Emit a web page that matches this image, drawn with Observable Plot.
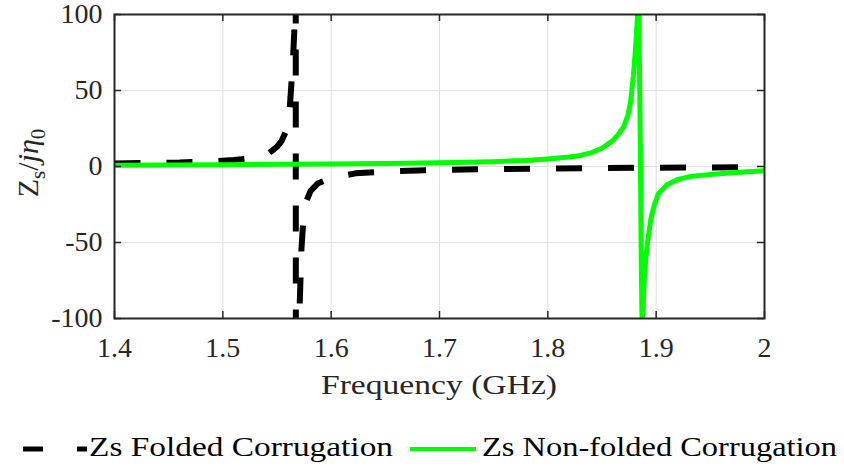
<!DOCTYPE html>
<html><head><meta charset="utf-8">
<script src="https://cdn.jsdelivr.net/npm/d3@7"></script>
<script src="https://cdn.jsdelivr.net/npm/@observablehq/plot@0.6"></script>
<style>
html,body{margin:0;padding:0;background:#fff;overflow:hidden}
</style></head><body><div id="chart"></div>
<script>
// ---- data ----
const foldedFreq = [1.400,1.430,1.460,1.490,1.510,1.525,1.535,1.542,1.5456,1.550,1.554,1.558,1.560,1.5615,1.5625,1.5638,1.5650,1.5660,1.5667,1.5672,1.5675,1.5695,1.5710,1.5725,1.5745,1.5770,1.5810,1.5880,1.6000,1.6225,1.650,1.700,1.750,1.800,1.850,1.900,1.950,2.000];
const foldedZ    = [2.0,2.3,2.7,3.4,4.3,5.4,6.8,8.5,10.5,13,16.5,22.6,28,36,46,60,74,90,106,400,-400,-140,-90,-55,-33,-23,-16,-11,-7.5,-4.5,-3.3,-2.3,-1.7,-1.3,-1.0,-0.8,-0.6,-0.4];
const nonFoldedFreq = [1.400,1.450,1.500,1.550,1.600,1.650,1.700,1.750,1.780,1.800,1.820,1.830,1.840,1.850,1.860,1.866,1.870,1.874,1.8765,1.879,1.881,1.8825,1.8833,1.8840,1.8850,1.8856,1.8862,1.8868,1.8872,1.8878,1.8890,1.8905,1.8920,1.8950,1.8980,1.9020,1.9100,1.9200,1.9320,1.9500,1.9700,1.9850,2.0000];
const nonFoldedZ    = [0.8,1.0,1.2,1.4,1.7,2.0,2.5,3.2,4.0,5.0,6.3,7.3,9.0,12,17,22,26,34,43,60,78,96,106,100,40,-10,-60,-95,-104,-96,-74,-60,-50,-35,-26,-18,-12,-8.5,-6.5,-5.2,-4.1,-3.4,-2.8];
const xTicks = [1.4,1.5,1.6,1.7,1.8,1.9,2.0];
const xTickLabels = ["1.4","1.5","1.6","1.7","1.8","1.9","2"];
const yTicks = [-100,-50,0,50,100];
const yTickLabels = ["-100","-50","0","50","100"];
const seriesNames = ["Zs Folded Corrugation","Zs Non-folded Corrugation"];
const seriesColors = ["#000000","#00ff00"];
const xLabel = "Frequency (GHz)";

// ---- layout ----
const W = 844, H = 410;
const mL = 114, mR = 80, mT = 14, mB = 92;
const plotW = W - mL - mR, plotH = H - mT - mB;
const FONT = "'Liberation Serif', serif";

const folded = foldedFreq.map((f, i) => ({f, z: foldedZ[i]}));
const nonFolded = nonFoldedFreq.map((f, i) => ({f, z: nonFoldedZ[i]}));
const axisColor = "#262626";
const tickLen = 7;

const chart = Plot.plot({
  width: W, height: H,
  marginLeft: mL, marginRight: mR, marginTop: mT, marginBottom: mB,
  x: {domain: [1.4, 2.0]},
  y: {domain: [-100, 100]},
  style: {fontFamily: FONT, fontSize: "28px"},
  marks: [
    Plot.gridX(xTicks, {stroke: "#dfdfdf", strokeOpacity: 1, strokeWidth: 1}),
    Plot.gridY(yTicks, {stroke: "#dfdfdf", strokeOpacity: 1, strokeWidth: 1}),
    Plot.line(folded, {x: "f", y: "z", stroke: seriesColors[0], strokeWidth: 6, strokeDasharray: "26,26", strokeLinecap: "butt", strokeLinejoin: "miter", clip: true}),
    Plot.line(nonFolded, {x: "f", y: "z", stroke: seriesColors[1], strokeWidth: 5, clip: true}),
    Plot.tickX(xTicks, {x: d => d, stroke: axisColor, strokeWidth: 1.5, insetTop: plotH - tickLen}),
    Plot.tickX(xTicks, {x: d => d, stroke: axisColor, strokeWidth: 1.5, insetBottom: plotH - tickLen}),
    Plot.tickY(yTicks, {y: d => d, stroke: axisColor, strokeWidth: 1.5, insetRight: plotW - tickLen}),
    Plot.tickY(yTicks, {y: d => d, stroke: axisColor, strokeWidth: 1.5, insetLeft: plotW - tickLen}),
    Plot.frame({stroke: axisColor, strokeWidth: 2}),
    Plot.axisX(xTicks, {tickSize: 0, tickPadding: 19, fontSize: 28, fill: axisColor, label: null,
      tickFormat: d => xTickLabels[xTicks.indexOf(d)]}),
    Plot.axisY(yTicks, {tickSize: 0, tickPadding: 12, fontSize: 28, fill: axisColor, label: null,
      tickFormat: d => yTickLabels[yTicks.indexOf(d)]})
  ]
});
document.getElementById("chart").appendChild(chart);

const svg = d3.select(chart);
// x axis title
svg.append("text")
  .attr("x", mL + plotW / 2).attr("y", 394)
  .attr("text-anchor", "middle")
  .attr("font-size", 28).attr("fill", axisColor)
  .attr("textLength", 236).attr("lengthAdjust", "spacingAndGlyphs")
  .text(xLabel);
// y axis title: Z_s / j eta_0
const yl = svg.append("text")
  .attr("transform", `translate(38,${163}) rotate(-90)`)
  .attr("text-anchor", "middle")
  .attr("font-size", 30).attr("fill", axisColor);
yl.append("tspan").text("Z");
yl.append("tspan").attr("font-size", 21).attr("dy", 7).text("s");
yl.append("tspan").attr("dy", -7).text("/");
yl.append("tspan").attr("font-style", "italic").text("j\u03B7");
yl.append("tspan").attr("font-size", 21).attr("dy", 7).text("0");

// legend (below the plot SVG)
const leg = d3.select("#chart").append("svg")
  .attr("width", W).attr("height", 468 - H).style("display", "block");
const ly = 449 - H;
leg.append("line").attr("x1", 23).attr("x2", 87).attr("y1", ly).attr("y2", ly)
  .attr("stroke", seriesColors[0]).attr("stroke-width", 5).attr("stroke-dasharray", "20,34");
leg.append("text").attr("x", 89).attr("y", 456 - H)
  .attr("font-size", 28).attr("fill", "#000")
  .attr("textLength", 304).attr("lengthAdjust", "spacingAndGlyphs")
  .text(seriesNames[0]);
leg.append("line").attr("x1", 410).attr("x2", 476).attr("y1", ly).attr("y2", ly)
  .attr("stroke", seriesColors[1]).attr("stroke-width", 4);
leg.append("text").attr("x", 482).attr("y", 456 - H)
  .attr("font-size", 28).attr("fill", "#000")
  .attr("textLength", 355).attr("lengthAdjust", "spacingAndGlyphs")
  .text(seriesNames[1]);

// make sure every text uses the serif face
d3.selectAll("svg text, svg tspan").attr("font-family", FONT).style("font-family", FONT);
</script>
</body></html>
